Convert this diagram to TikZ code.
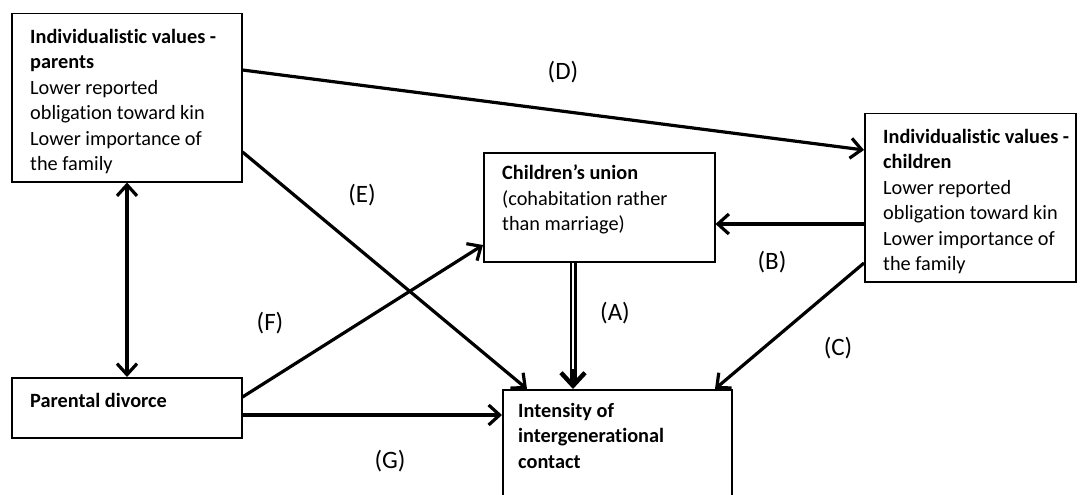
\documentclass[tikz,border=0pt]{standalone}
\usepackage{fontspec}
\setmainfont{Carlito}[Ligatures=NoCommon]
\usetikzlibrary{arrows.meta,calc}

\begin{document}
\begin{tikzpicture}[x=1pt,y=-1pt,
  font=\fontsize{20.3}{25.5}\selectfont,
  box/.style={draw,line width=1.5pt,anchor=north west,inner sep=0,minimum width=#1},
  txt/.style={anchor=north west,inner sep=0,align=left},
  arr/.style={line width=3.2pt,-{Straight Barb[length=11pt,width=20pt]}},
  lab/.style={inner sep=0,font=\fontsize{25}{30}\selectfont}]
\clip (0,0) rectangle (1080,495);
\fill[white] (0,0) rectangle (1080,495);
\node[box=230,minimum height=168] (parents) at (11,13) {};
\node[box=231,minimum height=109] (union) at (483,152) {};
\node[box=211,minimum height=168] (childval) at (864,113) {};
\node[box=230,minimum height=60] (divorce) at (11,377) {};
\node[box=229,minimum height=140] (contact) at (502,389) {};
\node[txt] (tparents) at ([shift={(19,16)}]parents.north west) {\textbf{Individualistic values -}\\\textbf{parents}\\Lower reported\\obligation toward kin\\Lower importance of\\the family};
\node[txt] (tunion) at ([shift={(19,13)}]union.north west) {\textbf{Children’s union}\\(cohabitation rather\\than marriage)};
\node[txt] (tchildval) at ([shift={(19,16)}]childval.north west) {\textbf{Individualistic values -}\\\textbf{children}\\Lower reported\\obligation toward kin\\Lower importance of\\the family};
\node[txt] (tdivorce) at ([shift={(19,16)}]divorce.north west) {\textbf{Parental divorce}};
\node[txt] (tcontact) at ([shift={(16,14)}]contact.north west) {\textbf{Intensity of}\\\textbf{intergenerational}\\\textbf{contact}};
\draw[arr] ([shift={(0,57)}]parents.north east)--([shift={(0,37)}]childval.north west);
\draw[arr] ([shift={(0,139)}]parents.north east)--([shift={(25,0)}]contact.north west);
\draw[arr,{Straight Barb[length=11pt,width=20pt]}-{Straight Barb[length=11pt,width=20pt]}] ([shift={(116,0)}]parents.south west)--([shift={(116,0)}]divorce.north west);
\draw[arr] ([shift={(0,20)}]divorce.north east)--([shift={(0,93)}]union.north west);
\draw[arr] ([shift={(0,38)}]divorce.north east)--([shift={(0,26)}]contact.north west);
\draw[arr] ([shift={(0,111)}]childval.north west)--([shift={(0,72)}]union.north east);
\draw[arr] ([shift={(0,150)}]childval.north west)--([shift={(213,0)}]contact.north west);
\draw[line width=7pt,-{Straight Barb[length=13pt,width=24pt,line width=4.5pt]}] ([shift={(90,0)}]union.south west)--([shift={(71,0)}]contact.north west);
\draw[white,line width=2.5pt,shorten >=20pt] ([shift={(90,0.8)}]union.south west)--([shift={(71,0)}]contact.north west);
\node[lab] (labD) at (563,72) {(D)};
\node[lab] (labE) at (362,195) {(E)};
\node[lab] (labB) at (772,262) {(B)};
\node[lab] (labA) at (615,313) {(A)};
\node[lab] (labF) at (270,323) {(F)};
\node[lab] (labC) at (838,348) {(C)};
\node[lab] (labG) at (390,461) {(G)};
\end{tikzpicture}
\end{document}
